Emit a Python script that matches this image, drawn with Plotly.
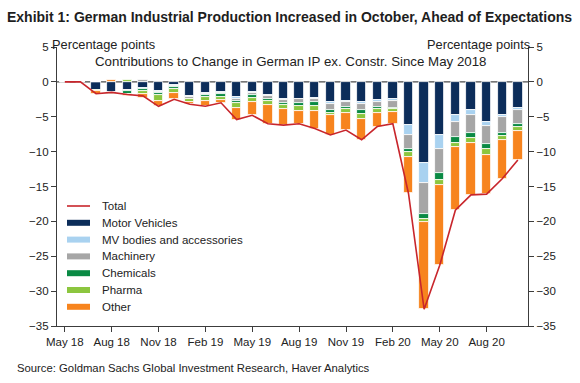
import plotly.graph_objects as go

months = ["May 18","Jun 18","Jul 18","Aug 18","Sep 18","Oct 18","Nov 18","Dec 18",
          "Jan 19","Feb 19","Mar 19","Apr 19","May 19","Jun 19","Jul 19","Aug 19",
          "Sep 19","Oct 19","Nov 19","Dec 19","Jan 20","Feb 20","Mar 20","Apr 20",
          "May 20","Jun 20","Jul 20","Aug 20","Sep 20","Oct 20"]

motor_vehicles = [0, 0, -1.1, -1.45, -1.1, -0.9, -1.3, -0.4, -2.0, -1.6, -1.5, -2.2, -1.5, -1.9,
                  -2.5, -2.4, -2.3, -2.9, -2.7, -2.9, -2.6, -2.4, -6.2, -11.6, -7.6, -4.8,
                  -4.1, -5.8, -4.7, -3.8]
mv_bodies = [0, 0, 0, -0.05, -0.05, -0.1, -0.1, -0.2, -0.1, -0.2, -0.1, -0.3, -0.1, -0.1,
             -0.1, -0.1, -0.1, -0.3, -0.2, -0.3, -0.3, -0.4, -1.4, -2.9, -2.0, -1.0,
             -0.7, -0.5, -0.3, -0.2]
machinery = [0, 0, -0.1, -0.1, -0.15, 0.3, -0.2, -0.1, -0.3, -0.1, -0.2, -0.2, -0.3, -0.4,
             -0.4, -0.5, -0.5, -0.9, -0.7, -0.9, -0.7, -1.0, -2.0, -4.4, -3.5, -2.1,
             -2.5, -2.6, -2.4, -2.1]
chemicals = [0, 0, 0, -0.05, -0.4, -0.3, -0.3, -0.3, -0.1, -0.3, -0.3, -0.3, -0.4, -0.3,
             -0.3, -0.4, -0.6, -0.3, -0.3, -0.5, -0.3, -0.1, -0.4, -0.7, -1.0, -0.9,
             -0.7, -0.7, -0.4, -0.3]
pharma = [0, 0, -0.1, -0.1, 0.2, -0.5, -0.8, -0.6, -0.4, -0.6, -0.5, -0.7, -0.6, -0.6,
          -0.6, -0.8, -0.7, -0.4, -0.6, -0.7, -0.6, -0.4, -0.7, -0.5, -0.7, -0.6,
          -0.7, -0.9, -0.5, -0.7]
other = [0, 0, -0.4, 0.2, -0.3, -0.5, -0.8, -0.9, -0.3, -0.7, -0.4, -1.7, -1.9, -2.7,
         -2.3, -1.8, -2.5, -2.8, -2.4, -3.0, -1.9, -1.7, -5.3, -12.5, -11.5, -9.0,
         -7.5, -5.6, -5.6, -4.1]
total = [0, 0, -1.7, -1.5, -1.8, -2.0, -3.5, -2.5, -3.2, -3.5, -3.0, -5.4, -4.8, -6.0,
         -6.2, -6.0, -6.7, -7.6, -6.9, -8.3, -6.4, -6.0, -16.0, -32.6, -26.3, -18.4,
         -16.2, -16.1, -13.9, -11.2]

tick_labels = ["May 18","Aug 18","Nov 18","Feb 19","May 19","Aug 19","Nov 19","Feb 20","May 20","Aug 20"]

x = list(range(len(months)))
tick_vals = [months.index(t) for t in tick_labels]

series = [
    ("Motor Vehicles", motor_vehicles, "#0c2d5a"),
    ("MV bodies and accessories", mv_bodies, "#a9d2f0"),
    ("Machinery", machinery, "#a6a6a6"),
    ("Chemicals", chemicals, "#0a8a44"),
    ("Pharma", pharma, "#8cc63f"),
    ("Other", other, "#f7841e"),
]
TOTAL_COLOR = "#c8262c"

FONT = "Liberation Sans, Arial, sans-serif"
AX = "#3c3c3c"
TXT = "#222"

W, H = 580, 383
ML, MR, MT, MB = 57, 52, 47, 57
PW, PH = W - ML - MR, H - MT - MB


def px(xpix):
    return (xpix - ML) / PW


def py(ypix):
    return (H - MB - ypix) / PH


fig = go.Figure()
fig.add_trace(go.Scatter(x=x, y=total, mode="lines", name="Total", showlegend=False,
                         line=dict(color=TOTAL_COLOR, width=1.6)))
for name, vals, col in series:
    fig.add_trace(go.Bar(x=x, y=vals, name=name, width=0.6, showlegend=False,
                         marker=dict(color=col, line=dict(color="white", width=0.8))))
# invisible trace for the right axis
fig.add_trace(go.Scatter(x=[x[0]], y=[0], yaxis="y2", mode="markers",
                         marker=dict(opacity=0), showlegend=False, hoverinfo="skip"))

yticks = [5, 0, -5, -10, -15, -20, -25, -30, -35]
yaxis_common = dict(range=[-35, 5], tickvals=yticks, showgrid=False, zeroline=False,
                    showline=True, linecolor=AX, linewidth=1.2, ticks="outside",
                    ticklen=5, tickcolor=AX, tickwidth=1.2,
                    tickfont=dict(family=FONT, size=11.5, color=TXT))

shapes = [dict(type="line", xref="paper", yref="y", x0=0, x1=1, y0=0, y1=0,
               line=dict(color="#4a4a4a", width=1.2), layer="below")]
annotations = []

# manual legend
LEG_X0, LEG_X1, LEG_TX = 67, 90, 100
leg_y0, leg_step = 206, 16.8
shapes.append(dict(type="line", xref="paper", yref="paper", x0=px(LEG_X0), x1=px(LEG_X1),
                   y0=py(leg_y0), y1=py(leg_y0), line=dict(color=TOTAL_COLOR, width=1.6)))
annotations.append(dict(text="Total", xref="paper", yref="paper", x=px(LEG_TX), y=py(leg_y0),
                        xanchor="left", yanchor="middle", showarrow=False,
                        font=dict(family=FONT, size=11.5, color=TXT)))
for i, (name, vals, col) in enumerate(series):
    yc = leg_y0 + leg_step * (i + 1)
    shapes.append(dict(type="rect", xref="paper", yref="paper", x0=px(LEG_X0), x1=px(LEG_X1),
                       y0=py(yc - 3), y1=py(yc + 3), fillcolor=col, line=dict(width=0)))
    annotations.append(dict(text=name, xref="paper", yref="paper", x=px(LEG_TX), y=py(yc),
                            xanchor="left", yanchor="middle", showarrow=False,
                            font=dict(family=FONT, size=11.5, color=TXT)))

annotations += [
    dict(text="<b>Exhibit 1: German Industrial Production Increased in October, Ahead of Expectations</b>",
         xref="paper", yref="paper", x=px(5), y=py(17), xanchor="left", yanchor="middle",
         showarrow=False, font=dict(family=FONT, size=14, color="#1e1e1e")),
    dict(text="Percentage points", xref="paper", yref="paper", x=px(50), y=py(44),
         xanchor="left", yanchor="middle", showarrow=False,
         font=dict(family=FONT, size=12.8, color=TXT)),
    dict(text="Percentage points", xref="paper", yref="paper", x=px(532), y=py(44),
         xanchor="right", yanchor="middle", showarrow=False,
         font=dict(family=FONT, size=12.8, color=TXT)),
    dict(text="Contributions to Change in German IP ex. Constr. Since May 2018",
         xref="paper", yref="paper", x=px(291), y=py(61),
         xanchor="center", yanchor="middle", showarrow=False,
         font=dict(family=FONT, size=13.3, color=TXT)),
    dict(text="Source: Goldman Sachs Global Investment Research, Haver Analytics",
         xref="paper", yref="paper", x=px(15), y=py(368),
         xanchor="left", yanchor="middle", showarrow=False,
         font=dict(family=FONT, size=11.3, color=TXT)),
]

fig.update_layout(
    width=W, height=H,
    margin=dict(l=ML, r=MR, t=MT, b=MB),
    paper_bgcolor="white", plot_bgcolor="white",
    barmode="relative", bargap=0,
    font=dict(family=FONT, size=11.5, color=TXT),
    showlegend=False,
    xaxis=dict(range=[-0.5, 29.65], tickvals=tick_vals, ticktext=tick_labels,
               showgrid=False, zeroline=False, showline=True, linecolor=AX, linewidth=1.2,
               ticks="outside", ticklen=5, tickcolor=AX, tickwidth=1.2,
               tickfont=dict(family=FONT, size=11.5, color=TXT)),
    yaxis=dict(side="left", **yaxis_common),
    yaxis2=dict(side="right", overlaying="y", **yaxis_common),
    shapes=shapes,
    annotations=annotations,
)

fig.write_html("out.html", config={"displayModeBar": False},
               post_script="document.body.style.margin='0px';")
